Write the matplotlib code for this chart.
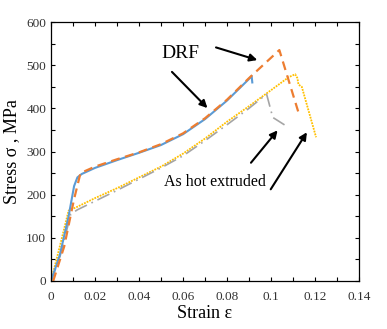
import matplotlib.pyplot as plt
from matplotlib.ticker import MultipleLocator, FuncFormatter

plt.rcParams['font.family'] = ['Liberation Serif', 'DejaVu Serif']

# DRF, solid blue
drf1_strain = [0, 0.004, 0.008, 0.0105, 0.012, 0.014, 0.02, 0.03, 0.04, 0.05, 0.06, 0.07, 0.08, 0.09, 0.0912, 0.0915]
drf1_stress = [0, 60, 150, 220, 240, 248, 262, 280, 297, 315, 340, 375, 418, 468, 475, 460]

# DRF, dashed orange
drf2_strain = [0.001, 0.006, 0.0105, 0.0134, 0.02, 0.03, 0.04, 0.05, 0.06, 0.07, 0.08, 0.09, 0.1038, 0.1124]
drf2_stress = [0, 80, 190, 250, 265, 282, 298, 317, 342, 377, 420, 470, 535, 392]

# As hot extruded, dash-dot gray
ext1_strain = [0, 0.004, 0.009, 0.012, 0.02, 0.03, 0.04, 0.05, 0.06, 0.07, 0.08, 0.09, 0.098, 0.1008, 0.1076]
ext1_stress = [0, 55, 155, 165, 185, 210, 236, 262, 290, 325, 362, 400, 433, 379, 357]

# As hot extruded, dotted yellow
ext2_strain = [0, 0.004, 0.008, 0.012, 0.02, 0.03, 0.04, 0.05, 0.06, 0.07, 0.08, 0.09, 0.1, 0.108, 0.111, 0.112, 0.1125, 0.114, 0.1205]
ext2_stress = [0, 80, 163, 172, 192, 215, 240, 265, 295, 330, 369, 405, 442, 472, 479, 470, 455, 450, 333]

fig = plt.figure(figsize=(3.87, 3.29), dpi=100)
ax = fig.add_axes([0.1318, 0.1459, 0.7958, 0.7872])

ax.plot(ext2_strain, ext2_stress, color='#FFC000', lw=1.3, ls=(0, (1, 0.6)))
ax.plot(ext1_strain, ext1_stress, color='#A5A5A5', lw=1.2, ls=(0, (8, 3, 1, 3)))
ax.plot(drf1_strain, drf1_stress, color='#5B9BD5', lw=1.5)
ax.plot(drf2_strain, drf2_stress, color='#ED7D31', lw=1.6, ls=(0, (4, 2.5)))

arrow = dict(arrowstyle='-|>', color='black', lw=1.5, mutation_scale=11)
ax.annotate('', xy=(0.095, 510), xytext=(0.0738, 543), arrowprops=arrow)
ax.annotate('', xy=(0.072, 396), xytext=(0.0541, 489), arrowprops=arrow)
ax.annotate('', xy=(0.1038, 354), xytext=(0.0901, 269), arrowprops=arrow)
ax.annotate('', xy=(0.117, 350), xytext=(0.0992, 207), arrowprops=arrow)

ax.text(0.0586, 528, 'DRF', fontsize=14, ha='center', va='center')
ax.text(0.0745, 230, 'As hot extruded', fontsize=11.5, ha='center', va='center')

ax.set_xlim(0, 0.14)
ax.set_ylim(0, 600)
ax.xaxis.set_major_locator(MultipleLocator(0.02))
ax.xaxis.set_minor_locator(MultipleLocator(0.01))
ax.yaxis.set_major_locator(MultipleLocator(100))
ax.yaxis.set_minor_locator(MultipleLocator(50))
ax.xaxis.set_major_formatter(FuncFormatter(lambda v, p: '0' if abs(v) < 1e-9 else ('%.2f' % v).rstrip('0')))
ax.tick_params(which='both', direction='in', top=True, right=True, length=3, width=0.8,
               labelsize=9.5, labelcolor='#333333')
ax.tick_params(axis='x', pad=7)

for s in ax.spines.values():
    s.set_linewidth(0.9)

ax.set_xlabel('Strain ε', fontsize=13, labelpad=2)
ax.set_ylabel('Stress σ , MPa', fontsize=13, labelpad=4)

fig.savefig('out.png', dpi=100)
